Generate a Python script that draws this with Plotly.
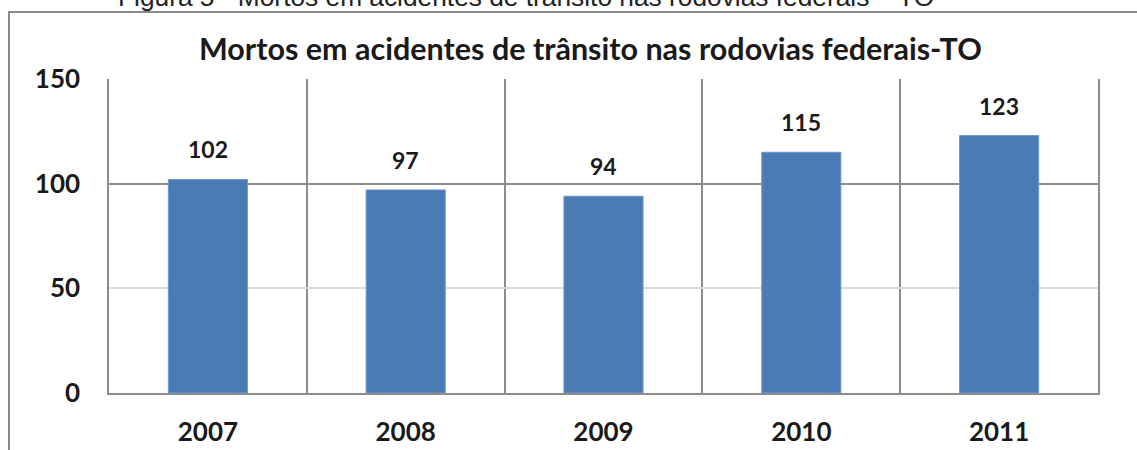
import plotly.graph_objects as go

years = ["2007", "2008", "2009", "2010", "2011"]
deaths = [102, 97, 94, 115, 123]
y_ticks = [0, 50, 100, 150]

W, H = 1137, 450
L, R, T, B = 109, 39, 79, 57
pw, ph = W - L - R, H - T - B

def px_to_paper_x(px):
    return (px - L) / pw

def px_to_paper_y(py):
    return (H - B - py) / ph

bold = "Lato"
fig = go.Figure()
fig.add_trace(go.Bar(
    x=years, y=deaths, width=0.40,
    marker=dict(color="#4a7bb5", line=dict(color="#6e98cc", width=1)),
    hoverinfo="skip",
))
# invisible companion trace so the overlay axis (darker 100 gridline) is drawn
fig.add_trace(go.Scatter(x=years, y=deaths, yaxis="y2", mode="markers",
                         marker=dict(opacity=0), hoverinfo="skip"))

for i, v in enumerate(deaths):
    fig.add_annotation(x=i, y=v, text=str(v), showarrow=False, yanchor="bottom",
                       yshift=14, font=dict(family=bold, size=23, color="#1a1a1a", weight=700))

# title
fig.add_annotation(xref="paper", yref="paper", x=px_to_paper_x(590), y=px_to_paper_y(48),
                   text="Mortos em acidentes de trânsito nas rodovias federais-TO", showarrow=False,
                   xanchor="center", yanchor="middle",
                   font=dict(family=bold, size=30.5, color="#1a1a1a", weight=700))
# caption (cut off at top)
fig.add_annotation(xref="paper", yref="paper", x=px_to_paper_x(526), y=px_to_paper_y(14),
                   text="Figura 5 - Mortos em acidentes de trânsito nas rodovias federais – TO",
                   showarrow=False, xanchor="center", yanchor="bottom",
                   font=dict(family="Liberation Sans", size=26.3, color="#222222"))

# outer frame
fig.add_shape(type="rect", xref="paper", yref="paper",
              x0=px_to_paper_x(9), x1=px_to_paper_x(1145),
              y0=px_to_paper_y(460), y1=px_to_paper_y(12),
              line=dict(color="#8a8a8a", width=2), fillcolor="rgba(0,0,0,0)", layer="below")

fig.update_layout(
    width=W, height=H,
    margin=dict(l=L, r=R, t=T, b=B, pad=0, autoexpand=False),
    paper_bgcolor="white", plot_bgcolor="white",
    showlegend=False,
    xaxis=dict(type="category", range=[-0.5, 4.5], tickson="boundaries", showgrid=True,
               gridcolor="#8c8c8c", automargin=False, tickangle=0, ticklabelstandoff=15,
               gridwidth=1.5, showline=True, linecolor="#8c8c8c", linewidth=1.5, ticks="",
               ticklen=0, tickfont=dict(family=bold, size=26, color="#1a1a1a", weight=700)),
    yaxis=dict(range=[0, 150], tickvals=y_ticks, showgrid=True, gridcolor="#dadada",
               gridwidth=1.5, showline=True, mirror=True, linecolor="#8c8c8c", linewidth=1.5,
               ticks="", zeroline=False, ticklabelstandoff=22, automargin=False,
               tickfont=dict(family=bold, size=26, color="#1a1a1a", weight=700)),
    yaxis2=dict(range=[0, 150], overlaying="y", side="left", tickvals=[100],
                showticklabels=False, showgrid=True, gridcolor="#8c8c8c", gridwidth=1.5,
                showline=False, ticks="", zeroline=False, automargin=False),
)

fig.write_html("out.html", config={"displayModeBar": False},
               post_script="document.body.style.margin='0';")
